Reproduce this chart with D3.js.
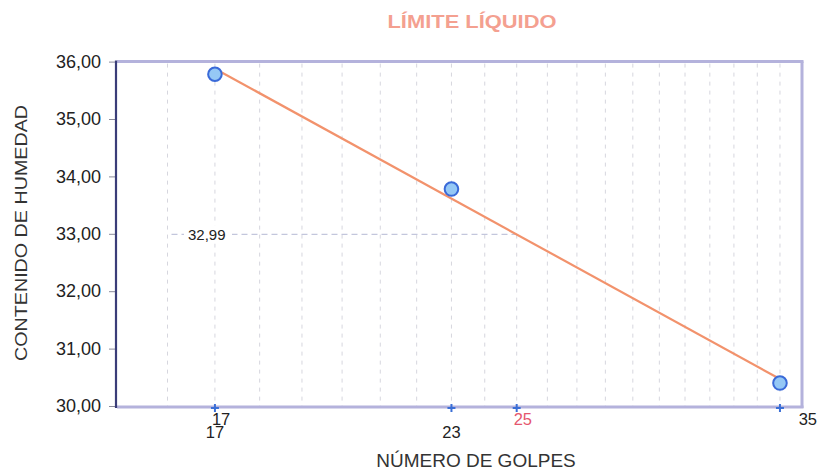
<!DOCTYPE html>
<html>
<head>
<meta charset="utf-8">
<script src="https://cdn.jsdelivr.net/npm/d3@7"></script>
<style>
  html, body { margin: 0; padding: 0; background: #fff; }
  svg { display: block; font-family: "Liberation Sans", Arial, sans-serif; }
</style>
</head>
<body>
<svg id="chart" width="818" height="470"></svg>
<script>
// Liquid limit test: blows (N) vs. moisture content (%)
const blows = [17, 23, 35];
const moisture = [35.78, 33.78, 30.40];
const yTicks = [30, 31, 32, 33, 34, 35, 36];
const gridBlows = d3.range(16, 36);          // 16 … 35
const markerBlows = [17, 23, 25, 35];        // "+" markers on the base line
const upperLabels = [17, 25, 35];            // first row under the axis
const lowerLabels = [17, 23];                // second row under the axis
const referenceBlows = 25;
const liquidLimit = 32.99;

(function draw() {
  const svg = d3.select("#chart");
  const pLeft = 117, pRight = 802, pTop = 61.6, pBottom = 406;

  const x = d3.scaleLog().domain([15, 36]).range([pLeft, pRight]);
  const y = d3.scaleLinear().domain([30, 36]).range([pBottom, pTop]);
  const comma = v => d3.format(".2f")(v).replace(".", ",");

  // vertical dashed grid
  svg.append("g").selectAll("line").data(gridBlows).join("line")
    .attr("x1", d => x(d)).attr("x2", d => x(d))
    .attr("y1", pTop + 2).attr("y2", pBottom)
    .attr("stroke", "#d6d6de").attr("stroke-width", 1)
    .attr("stroke-dasharray", "4,5");

  // frame: top, right, bottom in lavender
  svg.append("line").attr("x1", pLeft).attr("x2", pRight + 1.5).attr("y1", pTop).attr("y2", pTop)
    .attr("stroke", "#b4b2dc").attr("stroke-width", 3);
  svg.append("line").attr("x1", pRight).attr("x2", pRight).attr("y1", pTop).attr("y2", pBottom + 2)
    .attr("stroke", "#b4b2dc").attr("stroke-width", 3);
  svg.append("line").attr("x1", pLeft).attr("x2", pRight + 1.5).attr("y1", pBottom + 1).attr("y2", pBottom + 1)
    .attr("stroke", "#b4b2dc").attr("stroke-width", 3);

  // y axis
  const yAxis = d3.axisLeft(y).tickValues(yTicks).tickSize(7).tickPadding(8).tickFormat(comma);
  const ga = svg.append("g").attr("transform", `translate(${pLeft - 1},0)`).call(yAxis);
  ga.select(".domain").remove();
  ga.selectAll(".tick line").attr("stroke", "#8a8a9a");
  ga.selectAll(".tick text").attr("font-size", 18).attr("fill", "#222")
    .attr("font-family", "Liberation Sans, Arial, sans-serif");
  svg.append("line").attr("x1", pLeft - 1).attr("x2", pLeft - 1).attr("y1", pTop - 1).attr("y2", pBottom + 2)
    .attr("stroke", "#3a3d78").attr("stroke-width", 2.2);

  // liquid limit reference (dashed, at N = 25)
  svg.append("line")
    .attr("x1", x(16) + 4).attr("x2", x(referenceBlows))
    .attr("y1", y(liquidLimit)).attr("y2", y(liquidLimit))
    .attr("stroke", "#c3c6dc").attr("stroke-width", 1.2).attr("stroke-dasharray", "6,4");
  svg.append("rect").attr("x", 184).attr("y", y(liquidLimit) - 9).attr("width", 48).attr("height", 18)
    .attr("fill", "#fff");
  svg.append("text").attr("x", 188).attr("y", y(liquidLimit)).attr("dy", "0.35em")
    .attr("font-size", 15).attr("fill", "#222")
    .text(comma(liquidLimit));

  // least-squares trend on log10(N)
  const lx = blows.map(v => Math.log10(v));
  const mx = d3.mean(lx), my = d3.mean(moisture);
  const slope = d3.sum(lx.map((v, i) => (v - mx) * (moisture[i] - my))) /
                d3.sum(lx.map(v => (v - mx) ** 2));
  const fit = n => my + slope * (Math.log10(n) - mx);
  svg.append("line")
    .attr("x1", x(blows[0])).attr("y1", y(fit(blows[0])))
    .attr("x2", x(blows[blows.length - 1])).attr("y2", y(fit(blows[blows.length - 1])))
    .attr("stroke", "#f2926c").attr("stroke-width", 2.2);

  // "+" markers on base line
  const plus = svg.append("g").selectAll("g").data(markerBlows).join("g")
    .attr("transform", d => `translate(${x(d)},${pBottom + 2})`);
  plus.append("line").attr("x1", -4).attr("x2", 4).attr("y1", 0).attr("y2", 0)
    .attr("stroke", "#3b6fd6").attr("stroke-width", 2);
  plus.append("line").attr("x1", 0).attr("x2", 0).attr("y1", -4).attr("y2", 4)
    .attr("stroke", "#3b6fd6").attr("stroke-width", 2);

  // data points
  svg.append("g").selectAll("circle").data(blows).join("circle")
    .attr("cx", d => x(d)).attr("cy", (d, i) => y(moisture[i]))
    .attr("r", 6.8)
    .attr("fill", "#95c8f5").attr("stroke", "#3a6ad8").attr("stroke-width", 2);

  // x labels, first row (last one sits past the frame's right edge)
  const lastUpper = upperLabels[upperLabels.length - 1];
  svg.append("g").selectAll("text").data(upperLabels).join("text")
    .attr("x", d => d === lastUpper ? 817 : x(d) - 3)
    .attr("text-anchor", d => d === lastUpper ? "end" : "start")
    .attr("y", 425)
    .attr("font-size", 16.5)
    .attr("fill", d => d === referenceBlows ? "#e5566e" : "#222")
    .text(d => d);
  // x labels, second row
  svg.append("g").selectAll("text").data(lowerLabels).join("text")
    .attr("x", d => x(d)).attr("y", 438)
    .attr("text-anchor", "middle")
    .attr("font-size", 16.5).attr("fill", "#222")
    .text(d => d);

  // titles
  svg.append("text").attr("x", 472).attr("y", 28).attr("text-anchor", "middle")
    .attr("font-size", 18).attr("font-weight", "bold").attr("fill", "#f4a090")
    .attr("textLength", 169).attr("lengthAdjust", "spacingAndGlyphs")
    .text("LÍMITE LÍQUIDO");
  svg.append("text").attr("x", 476).attr("y", 467).attr("text-anchor", "middle")
    .attr("font-size", 19).attr("fill", "#333")
    .text("NÚMERO DE GOLPES");
  svg.append("text").attr("transform", "translate(27,233) rotate(-90)")
    .attr("text-anchor", "middle")
    .attr("font-size", 16.5).attr("fill", "#333")
    .attr("textLength", 256).attr("lengthAdjust", "spacingAndGlyphs")
    .text("CONTENIDO DE HUMEDAD");
})();
</script>
</body>
</html>
